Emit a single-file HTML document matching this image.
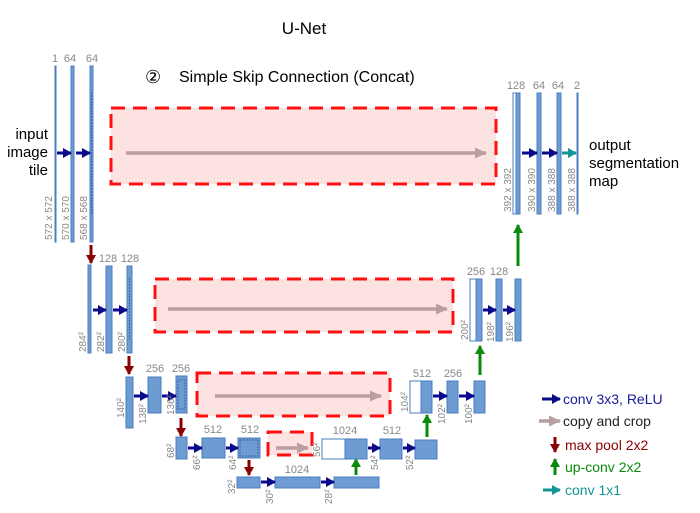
<!DOCTYPE html>
<html><head><meta charset="utf-8"><style>
html,body{margin:0;padding:0;background:#fff;}
svg{display:block;font-family:"Liberation Sans",sans-serif;}
.b{fill:#6e9bd2;stroke:#4a7cc0;stroke-width:1}
.w{fill:#fff;stroke:#4a7cc0;stroke-width:1}
.d{fill:none;stroke:#3a65a8;stroke-width:1;stroke-dasharray:2 1}
.n{font-size:11px;fill:#888;text-anchor:middle}
.r{font-size:10px;fill:#888}
.box{fill:#fde2e2;stroke:#ff1010;stroke-width:3;stroke-dasharray:14 8}
.cv{stroke:#0a0a8a;stroke-width:3;marker-end:url(#mN)}
.cp{stroke:#b9a0a0;stroke-width:3.5;marker-end:url(#mG)}
.mp{stroke:#8b0000;stroke-width:3;marker-end:url(#mR)}
.up{stroke:#0a8a0a;stroke-width:3;marker-end:url(#mU)}
.tl{stroke:#139595;stroke-width:3;marker-end:url(#mT)}
</style></head><body>
<svg width="700" height="513" viewBox="0 0 700 513" xmlns="http://www.w3.org/2000/svg">
<defs>
<marker id="mN" markerUnits="userSpaceOnUse" markerWidth="9" markerHeight="10" refX="8" refY="5" orient="auto"><path d="M0,0L9,5L0,10z" fill="#0a0a8a"/></marker>
<marker id="mG" markerUnits="userSpaceOnUse" markerWidth="12" markerHeight="11" refX="11" refY="5.5" orient="auto"><path d="M0,0L12,5.5L0,11z" fill="#b9a0a0"/></marker>
<marker id="mR" markerUnits="userSpaceOnUse" markerWidth="9" markerHeight="10" refX="8" refY="5" orient="auto"><path d="M0,0L9,5L0,10z" fill="#8b0000"/></marker>
<marker id="mU" markerUnits="userSpaceOnUse" markerWidth="9" markerHeight="10" refX="8" refY="5" orient="auto"><path d="M0,0L9,5L0,10z" fill="#0a8a0a"/></marker>
<marker id="mT" markerUnits="userSpaceOnUse" markerWidth="9" markerHeight="10" refX="8" refY="5" orient="auto"><path d="M0,0L9,5L0,10z" fill="#139595"/></marker>
</defs>

<text x="304" y="34" font-size="17" text-anchor="middle" fill="#000">U-Net</text>
<text x="145" y="83" font-size="18" fill="#000">②</text>
<text x="179" y="82" font-size="16" fill="#000">Simple Skip Connection (Concat)</text>

<!-- red boxes -->
<rect class="box" x="111" y="108" width="385" height="76"/>
<rect class="box" x="155" y="279" width="298" height="53"/>
<rect class="box" x="197" y="373" width="193" height="43"/>
<rect class="box" x="268" y="432" width="44" height="23"/>
<line class="cp" x1="126" y1="153" x2="486" y2="153"/>
<line class="cp" x1="168" y1="309" x2="447" y2="309"/>
<line class="cp" x1="215" y1="396" x2="381" y2="396"/>
<line class="cp" x1="276" y1="448" x2="308" y2="448"/>

<!-- level 1 encoder -->
<text x="48" y="139" font-size="15" text-anchor="end">input</text>
<text x="48" y="157" font-size="15" text-anchor="end">image</text>
<text x="48" y="175" font-size="15" text-anchor="end">tile</text>
<rect class="b" x="55" y="66" width="1" height="176"/>
<rect class="b" x="71" y="66" width="3" height="176"/>
<rect class="b" x="90" y="66" width="3" height="176"/>
<line class="d" x1="91.5" y1="92" x2="91.5" y2="214"/>
<text class="n" x="55" y="62">1</text><text class="n" x="70" y="62">64</text><text class="n" x="92" y="62">64</text>
<line class="cv" x1="57" y1="153" x2="71" y2="153"/><line class="cv" x1="76" y1="153" x2="90" y2="153"/>
<text class="r" transform="translate(52,240) rotate(-90)">572 x 572</text>
<text class="r" transform="translate(69,240) rotate(-90)">570 x 570</text>
<text class="r" transform="translate(87,240) rotate(-90)">568 x 568</text>
<line class="mp" x1="91" y1="245" x2="91" y2="263"/>

<!-- level 2 encoder -->
<rect class="b" x="88" y="265" width="3" height="88"/>
<rect class="b" x="106" y="266" width="6" height="87"/>
<rect class="b" x="127" y="266" width="5" height="87"/>
<line class="d" x1="129.5" y1="278" x2="129.5" y2="341"/>
<text class="n" x="108" y="262">128</text><text class="n" x="130" y="262">128</text>
<line class="cv" x1="93" y1="310" x2="106" y2="310"/><line class="cv" x1="113" y1="310" x2="127" y2="310"/>
<text class="r" transform="translate(86,352) rotate(-90)">284²</text>
<text class="r" transform="translate(104,352) rotate(-90)">282²</text>
<text class="r" transform="translate(125,352) rotate(-90)">280²</text>
<line class="mp" x1="129" y1="356" x2="129" y2="374"/>

<!-- level 3 encoder -->
<rect class="b" x="126" y="377" width="7" height="51"/>
<rect class="b" x="148" y="377" width="13" height="36"/>
<rect class="b" x="176" y="376" width="11" height="37"/>
<rect class="d" x="178" y="380" width="7" height="29"/>
<text class="n" x="155" y="372">256</text><text class="n" x="181" y="372">256</text>
<line class="cv" x1="134" y1="396" x2="148" y2="396"/><line class="cv" x1="162" y1="396" x2="176" y2="396"/>
<text class="r" transform="translate(124,418) rotate(-90)">140²</text>
<text class="r" transform="translate(146,424) rotate(-90)">138²</text>
<text class="r" transform="translate(174,415) rotate(-90)">136²</text>
<line class="mp" x1="181" y1="418" x2="181" y2="436"/>

<!-- level 4 encoder -->
<rect class="b" x="176" y="437" width="11" height="22"/>
<rect class="b" x="202" y="438" width="23" height="20"/>
<rect class="b" x="238" y="438" width="22" height="20"/>
<rect class="d" x="240" y="440" width="18" height="16"/>
<text class="n" x="213" y="433">512</text><text class="n" x="250" y="433">512</text>
<line class="cv" x1="188" y1="448" x2="202" y2="448"/><line class="cv" x1="226" y1="448" x2="238" y2="448"/>
<text class="r" transform="translate(174,458) rotate(-90)">68²</text>
<text class="r" transform="translate(200,470) rotate(-90)">66²</text>
<text class="r" transform="translate(236,470) rotate(-90)">64²</text>
<line class="mp" x1="249" y1="460" x2="249" y2="475"/>

<!-- level 5 -->
<rect class="b" x="237" y="477" width="23" height="11"/>
<rect class="b" x="275" y="477" width="45" height="11"/>
<rect class="b" x="334" y="477" width="45" height="11"/>
<text class="n" x="297" y="473">1024</text>
<line class="cv" x1="261" y1="482" x2="275" y2="482"/><line class="cv" x1="321" y1="482" x2="334" y2="482"/>
<text class="r" transform="translate(235,494) rotate(-90)">32²</text>
<text class="r" transform="translate(273,504) rotate(-90)">30²</text>
<text class="r" transform="translate(332,504) rotate(-90)">28²</text>
<line class="up" x1="356" y1="475" x2="356" y2="459"/>

<!-- level 4 decoder -->
<rect class="w" x="322" y="439" width="23" height="20"/>
<rect class="b" x="345" y="439" width="22" height="20"/>
<rect class="b" x="380" y="439" width="22" height="20"/>
<rect class="b" x="415" y="440" width="22" height="19"/>
<text class="n" x="345" y="434">1024</text><text class="n" x="392" y="434">512</text>
<line class="cv" x1="368" y1="448" x2="380" y2="448"/><line class="cv" x1="403" y1="448" x2="415" y2="448"/>
<text class="r" transform="translate(320,457) rotate(-90)">56²</text>
<text class="r" transform="translate(378,470) rotate(-90)">54²</text>
<text class="r" transform="translate(413,470) rotate(-90)">52²</text>
<line class="up" x1="427" y1="437" x2="427" y2="415"/>

<!-- level 3 decoder -->
<rect class="w" x="410" y="381" width="11" height="32"/>
<rect class="b" x="421" y="381" width="11" height="32"/>
<rect class="b" x="447" y="381" width="11" height="32"/>
<rect class="b" x="474" y="381" width="11" height="32"/>
<text class="n" x="422" y="377">512</text><text class="n" x="453" y="377">256</text>
<line class="cv" x1="433" y1="396" x2="447" y2="396"/><line class="cv" x1="459" y1="396" x2="474" y2="396"/>
<text class="r" transform="translate(408,412) rotate(-90)">104²</text>
<text class="r" transform="translate(445,424) rotate(-90)">102²</text>
<text class="r" transform="translate(472,424) rotate(-90)">100²</text>
<line class="up" x1="480" y1="375" x2="480" y2="346"/>

<!-- level 2 decoder -->
<rect class="w" x="470" y="279" width="6" height="62"/>
<rect class="b" x="476" y="279" width="6" height="62"/>
<rect class="b" x="496" y="279" width="6" height="62"/>
<rect class="b" x="515" y="279" width="6" height="62"/>
<text class="n" x="476" y="275">256</text><text class="n" x="499" y="275">128</text>
<line class="cv" x1="483" y1="310" x2="496" y2="310"/><line class="cv" x1="503" y1="310" x2="515" y2="310"/>
<text class="r" transform="translate(468,340) rotate(-90)">200²</text>
<text class="r" transform="translate(494,342) rotate(-90)">198²</text>
<text class="r" transform="translate(513,342) rotate(-90)">196²</text>
<line class="up" x1="518" y1="266" x2="518" y2="225"/>

<!-- level 1 decoder -->
<rect class="w" x="513" y="93" width="4" height="121"/>
<rect class="b" x="516" y="93" width="4" height="121"/>
<rect class="b" x="537" y="93" width="4" height="121"/>
<rect class="b" x="557" y="93" width="4" height="121"/>
<rect class="b" x="577" y="93" width="1" height="121"/>
<text class="n" x="516" y="89">128</text><text class="n" x="539" y="89">64</text><text class="n" x="558" y="89">64</text><text class="n" x="577" y="89">2</text>
<line class="cv" x1="522" y1="153" x2="537" y2="153"/><line class="cv" x1="542" y1="153" x2="557" y2="153"/>
<line class="tl" x1="562" y1="153" x2="576" y2="153"/>
<text class="r" transform="translate(511,212) rotate(-90)">392 x 392</text>
<text class="r" transform="translate(535,212) rotate(-90)">390 x 390</text>
<text class="r" transform="translate(555,212) rotate(-90)">388 x 388</text>
<text class="r" transform="translate(575,212) rotate(-90)">388 x 388</text>
<text x="589" y="150" font-size="15">output</text>
<text x="589" y="168" font-size="15">segmentation</text>
<text x="589" y="186" font-size="15">map</text>

<!-- legend -->
<line class="cv" x1="542" y1="399" x2="560" y2="399"/>
<text x="563" y="404" font-size="14" fill="#1a1a9a">conv 3x3, ReLU</text>
<line class="cp" x1="539" y1="421" x2="560" y2="421"/>
<text x="563" y="426" font-size="14" fill="#222">copy and crop</text>
<line class="mp" x1="555" y1="437" x2="555" y2="452"/>
<text x="565" y="450" font-size="14" fill="#8b0000">max pool 2x2</text>
<line class="up" x1="555" y1="475" x2="555" y2="459"/>
<text x="565" y="472" font-size="14" fill="#0a8a0a">up-conv 2x2</text>
<line class="tl" x1="543" y1="490" x2="560" y2="490"/>
<text x="565" y="495" font-size="14" fill="#139595">conv 1x1</text>
</svg>
</body></html>
